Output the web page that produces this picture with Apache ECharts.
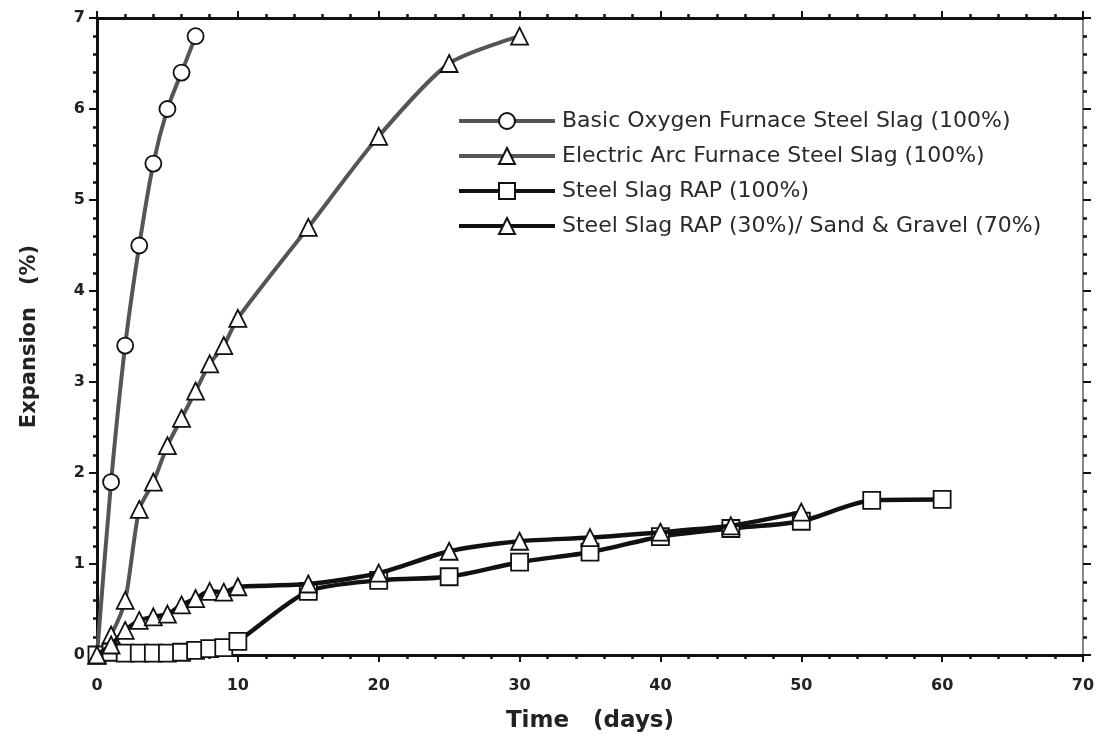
<!DOCTYPE html>
<html>
<head>
<meta charset="utf-8">
<script src="https://cdn.jsdelivr.net/npm/echarts@6/dist/echarts.min.js"></script>
<style>
html,body{margin:0;padding:0;background:#fff;}
#chart{width:1102px;height:738px;}
</style>
</head>
<body>
<div id="chart"></div>
<script>
// Series names
var seriesNames = [
  'Basic Oxygen Furnace Steel Slag (100%)',
  'Electric Arc Furnace Steel Slag (100%)',
  'Steel Slag RAP (100%)',
  'Steel Slag RAP (30%)/ Sand & Gravel (70%)'
];
// Days (x) and Expansion % (y) for each series
var bofDays = [0, 1, 2, 3, 4, 5, 6, 7];
var bofVals = [0, 1.9, 3.4, 4.5, 5.4, 6.0, 6.4, 6.8];

var eafDays = [0, 1, 2, 3, 4, 5, 6, 7, 8, 9, 10, 15, 20, 25, 30];
var eafVals = [0, 0.22, 0.6, 1.6, 1.9, 2.3, 2.6, 2.9, 3.2, 3.4, 3.7, 4.7, 5.7, 6.5, 6.8];

var rapDays = [0, 1, 2, 3, 4, 5, 6, 7, 8, 9, 10, 15, 20, 25, 30, 35, 40, 45, 50, 55, 60];
var rapVals = [0, 0.03, 0.02, 0.02, 0.02, 0.02, 0.03, 0.05, 0.07, 0.08, 0.15, 0.7, 0.82, 0.86, 1.02, 1.13, 1.3, 1.39, 1.47, 1.7, 1.71];

var mixDays = [0, 1, 2, 3, 4, 5, 6, 7, 8, 9, 10, 15, 20, 25, 30, 35, 40, 45, 50];
var mixVals = [0, 0.11, 0.27, 0.38, 0.42, 0.45, 0.55, 0.62, 0.7, 0.69, 0.75, 0.78, 0.9, 1.14, 1.25, 1.29, 1.35, 1.42, 1.57];

// Axis tick setup
var xMin = 0, xMax = 70, xStep = 10;
var yMin = 0, yMax = 7, yStep = 1;

function pairs(xs, ys) { return xs.map(function (x, i) { return [x, ys[i]]; }); }

var FONT = '"DejaVu Sans", "Liberation Sans", Arial, sans-serif';
var chart = echarts.init(document.getElementById('chart'), null, {renderer: 'canvas'});

function mkSeries(name, data, symbol, size, color, width, z) {
  return {
    name: name, type: 'line', data: data,
    symbol: symbol, symbolSize: size, smooth: 0.25,
    showAllSymbol: true,
    lineStyle: {color: color, width: width},
    itemStyle: {color: '#fff', borderColor: '#111', borderWidth: 1.8},
    emphasis: {disabled: true},
    z: z
  };
}

var tickStyle = {show: true, inside: false, length: 7, lineStyle: {color: '#111', width: 2}};
var minorStyle = {show: true, splitNumber: 5, length: 4, lineStyle: {color: '#111', width: 2.5}};

var option = {
  animation: false,
  backgroundColor: '#fff',
  grid: {left: 97, right: 19, top: 18, bottom: 81, containLabel: false},
  legend: {
    orient: 'vertical', left: 452, top: 105,
    itemWidth: 96, itemHeight: 20, itemGap: 13,
    lineStyle: {width: 4},
    textStyle: {fontFamily: FONT, fontSize: 22, color: '#2a2a2a', padding: [0, 0, 0, 2]},
    data: seriesNames
  },
  xAxis: [{
    type: 'value', min: xMin, max: xMax, interval: xStep, position: 'bottom',
    name: 'Time   (days)', nameLocation: 'middle', nameGap: 55,
    nameTextStyle: {fontFamily: FONT, fontSize: 23, color: '#222', fontWeight: 'bold'},
    axisLine: {onZero: false, lineStyle: {color: '#111', width: 3}},
    axisTick: tickStyle,
    minorTick: minorStyle,
    axisLabel: {fontFamily: FONT, fontSize: 16, fontWeight: 'bold', color: '#222', margin: 23},
    splitLine: {show: false}
  }, {
    type: 'value', min: xMin, max: xMax, interval: xStep, position: 'top',
    axisLine: {onZero: false, lineStyle: {color: '#111', width: 3}},
    axisTick: tickStyle,
    minorTick: minorStyle,
    axisLabel: {show: false},
    splitLine: {show: false}
  }],
  yAxis: [{
    type: 'value', min: yMin, max: yMax, interval: yStep, position: 'left',
    name: 'Expansion   (%)', nameLocation: 'middle', nameGap: 57,
    nameTextStyle: {fontFamily: FONT, fontSize: 21, color: '#222', fontWeight: 'bold'},
    axisLine: {onZero: false, lineStyle: {color: '#111', width: 3}},
    axisTick: {show: true, inside: false, length: 8, lineStyle: {color: '#111', width: 2}},
    minorTick: minorStyle,
    axisLabel: {fontFamily: FONT, fontSize: 16, fontWeight: 'bold', color: '#222', margin: 12},
    splitLine: {show: false}
  }, {
    type: 'value', min: yMin, max: yMax, interval: yStep, position: 'right',
    axisLine: {onZero: false, lineStyle: {color: '#888', width: 2}},
    axisTick: {show: true, inside: false, length: 8, lineStyle: {color: '#111', width: 2}},
    minorTick: minorStyle,
    axisLabel: {show: false},
    splitLine: {show: false}
  }],
  series: [
    mkSeries(seriesNames[0], pairs(bofDays, bofVals), 'circle', 16, '#555', 4, 3),
    mkSeries(seriesNames[1], pairs(eafDays, eafVals), 'triangle', 17, '#555', 4, 3),
    mkSeries(seriesNames[2], pairs(rapDays, rapVals), 'rect', 17, '#111', 4.5, 4),
    mkSeries(seriesNames[3], pairs(mixDays, mixVals), 'triangle', 17, '#111', 4.5, 5)
  ]
};
chart.setOption(option);
</script>
</body>
</html>
